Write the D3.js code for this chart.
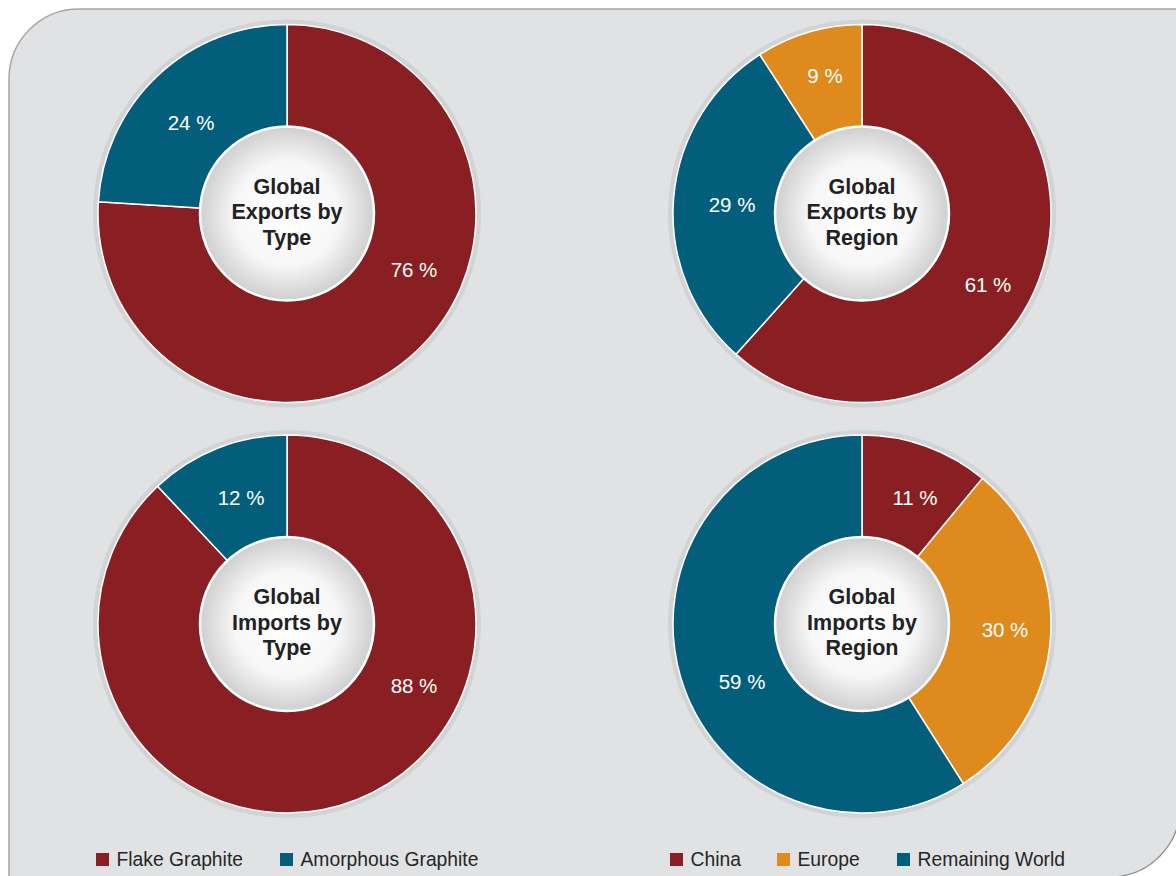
<!DOCTYPE html>
<html>
<head>
<meta charset="utf-8">
<script src="https://cdn.jsdelivr.net/npm/d3@7"></script>
<style>
  body { margin: 0; background: #fff; }
  svg { display: block; font-family: "Liberation Sans", Arial, sans-serif; }
</style>
</head>
<body>
<svg width="1176" height="876"></svg>
<script>
// data
const typeCategories = ['Flake Graphite', 'Amorphous Graphite'];
const exportsByType = [76, 24];
const importsByType = [88, 12];

const regionCategories = ['China', 'Remaining World', 'Europe'];
const exportsByRegion = [61, 29, 9];
const importsByRegionCategories = ['China', 'Europe', 'Remaining World'];
const importsByRegion = [11, 30, 59];

const legendRegionOrder = ['China', 'Europe', 'Remaining World'];

const colors = {
  'Flake Graphite': '#8a1f23',
  'Amorphous Graphite': '#025e7a',
  'China': '#8a1f23',
  'Europe': '#df8a1c',
  'Remaining World': '#025e7a'
};

// label offsets from the donut center (dx, dy)
const labelOffsets = {
  expType: [[127, 56], [-96, -91]],
  impType: [[127, 62], [-46, -126]],
  expRegion: [[126, 71], [-130, -9], [-37, -138]],
  impRegion: [[53, -126], [143, 6], [-120, 58]]
};

const svg = d3.select('svg');

// panel background with two rounded corners
const px0 = 9, py0 = 9, px1 = 1180, py1 = 877, pr = 70;
svg.append('path')
  .attr('d', `M${px0},${py0 + pr} A${pr},${pr} 0 0 1 ${px0 + pr},${py0} L${px1 + 40},${py0} L${px1 + 40},${py1 - pr} ` +
    `L${px1},${py1 - pr} A${pr},${pr} 0 0 1 ${px1 - pr},${py1} L${px0},${py1 + 40} Z`)
  .attr('fill', '#e1e2e4');
svg.append('path')
  .attr('d', `M${px0},${py1 + 40} L${px0},${py0 + pr} A${pr},${pr} 0 0 1 ${px0 + pr},${py0} L${px1 + 40},${py0}`)
  .attr('fill', 'none').attr('stroke', '#a5a6a8').attr('stroke-width', 1.5);
svg.append('path')
  .attr('d', `M${px1},${py0 + 100} L${px1},${py1 - pr} A${pr},${pr} 0 0 1 ${px1 - pr},${py1}`)
  .attr('fill', 'none').attr('stroke', '#8c8d8f').attr('stroke-width', 1.2);

// gradient for the center disc
const grad = svg.append('defs').append('radialGradient')
  .attr('id', 'hole').attr('cx', '50%').attr('cy', '50%').attr('r', '50%');
grad.append('stop').attr('offset', '0%').attr('stop-color', '#ffffff');
grad.append('stop').attr('offset', '60%').attr('stop-color', '#f7f7f7');
grad.append('stop').attr('offset', '100%').attr('stop-color', '#cfcfd0');

const outerR = 189;
const innerR = 87;

const pie = d3.pie().sort(null).value(d => d.value);
const arc = d3.arc().innerRadius(0).outerRadius(outerR);

function donut(cx, cy, cats, vals, offsets, title) {
  const g = svg.append('g').attr('transform', 'translate(' + cx + ',' + cy + ')');
  const data = cats.map((c, i) => ({ cat: c, value: vals[i] }));

  g.append('circle').attr('r', outerR + 5).attr('fill', '#d2d3d5');

  g.selectAll('path.slice').data(pie(data)).enter().append('path')
    .attr('class', 'slice')
    .attr('d', arc)
    .attr('fill', d => colors[d.data.cat])
    .attr('stroke', '#ffffff')
    .attr('stroke-width', 1.5)
    .attr('stroke-linejoin', 'round');

  g.append('circle').attr('r', innerR)
    .attr('fill', 'url(#hole)')
    .attr('stroke', '#ffffff')
    .attr('stroke-width', 2.5);

  g.selectAll('text.lbl').data(pie(data)).enter().append('text')
    .attr('class', 'lbl')
    .attr('x', (d, i) => offsets[i][0])
    .attr('y', (d, i) => offsets[i][1])
    .attr('dy', '0.35em')
    .attr('text-anchor', 'middle')
    .attr('fill', '#ffffff')
    .style('font-size', '20.5px')
    .text(d => d.data.value + ' %');

  const t = g.append('text')
    .attr('text-anchor', 'middle')
    .attr('fill', '#222222')
    .style('font-size', '21.5px')
    .style('font-weight', 'bold');
  title.forEach((line, i) => {
    t.append('tspan').attr('x', 0).attr('y', (i - 1) * 25.5 - 2).attr('dy', '0.35em').text(line);
  });
}

donut(287, 213.5, typeCategories, exportsByType, labelOffsets.expType, ['Global', 'Exports by', 'Type']);
donut(862, 213.5, regionCategories, exportsByRegion, labelOffsets.expRegion, ['Global', 'Exports by', 'Region']);
donut(287, 624, typeCategories, importsByType, labelOffsets.impType, ['Global', 'Imports by', 'Type']);
donut(862, 624, importsByRegionCategories, importsByRegion, labelOffsets.impRegion, ['Global', 'Imports by', 'Region']);

// legends
function legend(x, items, gaps) {
  const lg = svg.append('g').attr('transform', 'translate(' + x + ',853)');
  let xx = 0;
  items.forEach((name, i) => {
    lg.append('rect').attr('x', xx).attr('y', 0).attr('width', 13).attr('height', 13)
      .attr('fill', colors[name]);
    lg.append('text').attr('x', xx + 20.5).attr('y', 6.5).attr('dy', '0.35em')
      .attr('fill', '#262626').style('font-size', '19.3px').text(name);
    xx += gaps[i] || 0;
  });
}
legend(96, typeCategories, [184]);
legend(670, legendRegionOrder, [107, 120]);
</script>
</body>
</html>
